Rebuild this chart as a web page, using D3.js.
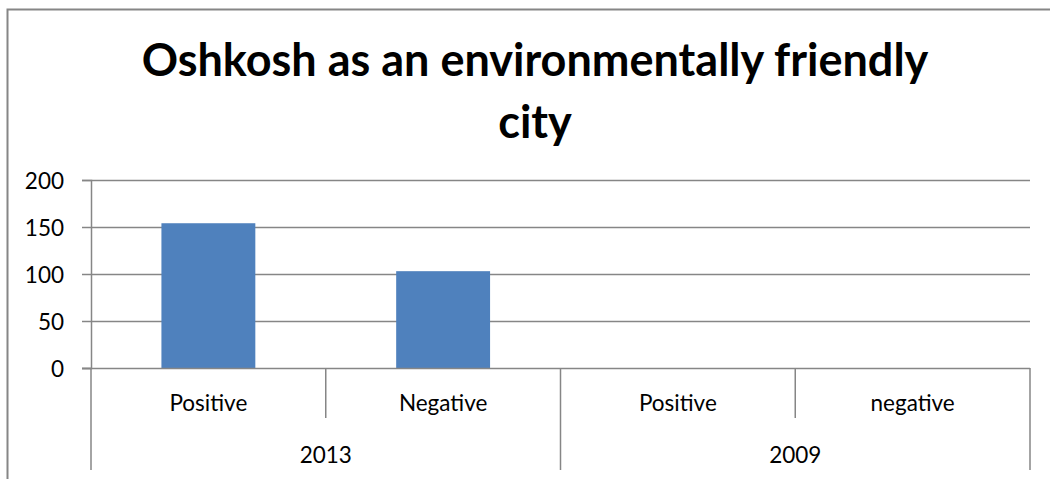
<!DOCTYPE html>
<html>
<head>
<meta charset="utf-8">
<script src="https://cdn.jsdelivr.net/npm/d3@7"></script>
<style>
  html, body { margin: 0; padding: 0; background: #fff; }
  svg { display: block; }
</style>
</head>
<body>
<svg id="chart" width="1050" height="479"></svg>
<script>
// Survey responses, grouped by year
const categories = ["Positive", "Negative", "Positive", "negative"];
const years = ["2013", "2013", "2009", "2009"];
const values = [154, 103, 0, 0];
const yTicks = [0, 50, 100, 150, 200];
const titleLines = ["Oshkosh as an environmentally friendly", "city"];

const svg = d3.select("#chart");
const W = 1050, H = 479;
const font = "Lato, 'Open Sans', sans-serif";
const axisColor = "#868686";
const labelSize = 22.5;

const plot = { left: 91, right: 1030, top: 180, bottom: 368 };

// outer chart frame
svg.append("path")
  .attr("d", `M7.5,${H} V9.5 H${W}`)
  .attr("fill", "none").attr("stroke", axisColor).attr("stroke-width", 2);

// title
const title = svg.append("g").attr("font-family", font).attr("font-weight", "bold")
  .attr("font-size", 45).attr("fill", "#000").attr("text-anchor", "middle");
titleLines.forEach((t, i) => {
  title.append("text").attr("x", 535).attr("y", 76 + i * 62).text(t);
});

const keys = categories.map((c, i) => i);
const x = d3.scaleBand().domain(keys).range([plot.left, plot.right])
  .paddingInner(0.6).paddingOuter(0.3);
const y = d3.scaleLinear().domain([0, 200]).range([plot.bottom, plot.top]);

// gridlines
svg.append("g").selectAll("line").data(yTicks.filter(d => d > 0)).join("line")
  .attr("x1", plot.left).attr("x2", plot.right)
  .attr("y1", d => Math.round(y(d)) + 0.5).attr("y2", d => Math.round(y(d)) + 0.5)
  .attr("stroke", axisColor).attr("stroke-width", 1.5);

// bars
svg.append("g").selectAll("rect").data(values).join("rect")
  .attr("x", (d, i) => x(i)).attr("width", x.bandwidth())
  .attr("y", d => y(d)).attr("height", d => y(0) - y(d))
  .attr("fill", "#4F81BD");

// y axis
const yAxis = d3.axisLeft(y).tickValues(yTicks).tickSize(9).tickPadding(18);
const gy = svg.append("g").attr("transform", `translate(${plot.left},0)`).call(yAxis);
gy.select(".domain").attr("stroke", axisColor).attr("stroke-width", 1.5);
gy.selectAll(".tick line").attr("stroke", axisColor).attr("stroke-width", 1.5);
gy.selectAll(".tick text").attr("font-family", font).attr("font-size", labelSize)
  .attr("fill", "#000").attr("dy", "0.36em");

// x axis baseline
svg.append("line")
  .attr("x1", plot.left - 9).attr("x2", plot.right)
  .attr("y1", plot.bottom + 0.5).attr("y2", plot.bottom + 0.5)
  .attr("stroke", axisColor).attr("stroke-width", 1.5);

// category divider lines (inner level short, group level long)
const edges = d3.range(categories.length + 1).map(i => plot.left + i * (plot.right - plot.left) / categories.length);
svg.append("g").selectAll("line").data(edges).join("line")
  .attr("x1", d => d).attr("x2", d => d)
  .attr("y1", plot.bottom)
  .attr("y2", (d, i) => (i % 2 === 0 ? 470 : 418))
  .attr("stroke", axisColor).attr("stroke-width", 1.5);

// category labels
svg.append("g").selectAll("text").data(categories).join("text")
  .attr("x", (d, i) => x(i) + x.bandwidth() / 2).attr("y", 411)
  .attr("text-anchor", "middle").attr("font-family", font).attr("font-size", labelSize)
  .attr("fill", "#000").text(d => d);

// year group labels
const groups = Array.from(new Set(years));
svg.append("g").selectAll("text").data(groups).join("text")
  .attr("x", g => {
    const idx = keys.filter(i => years[i] === g);
    return (x(idx[0]) + x(idx[idx.length - 1]) + x.bandwidth()) / 2;
  })
  .attr("y", 463).attr("text-anchor", "middle").attr("font-family", font)
  .attr("font-size", labelSize).attr("fill", "#000").text(g => g);
</script>
</body>
</html>
